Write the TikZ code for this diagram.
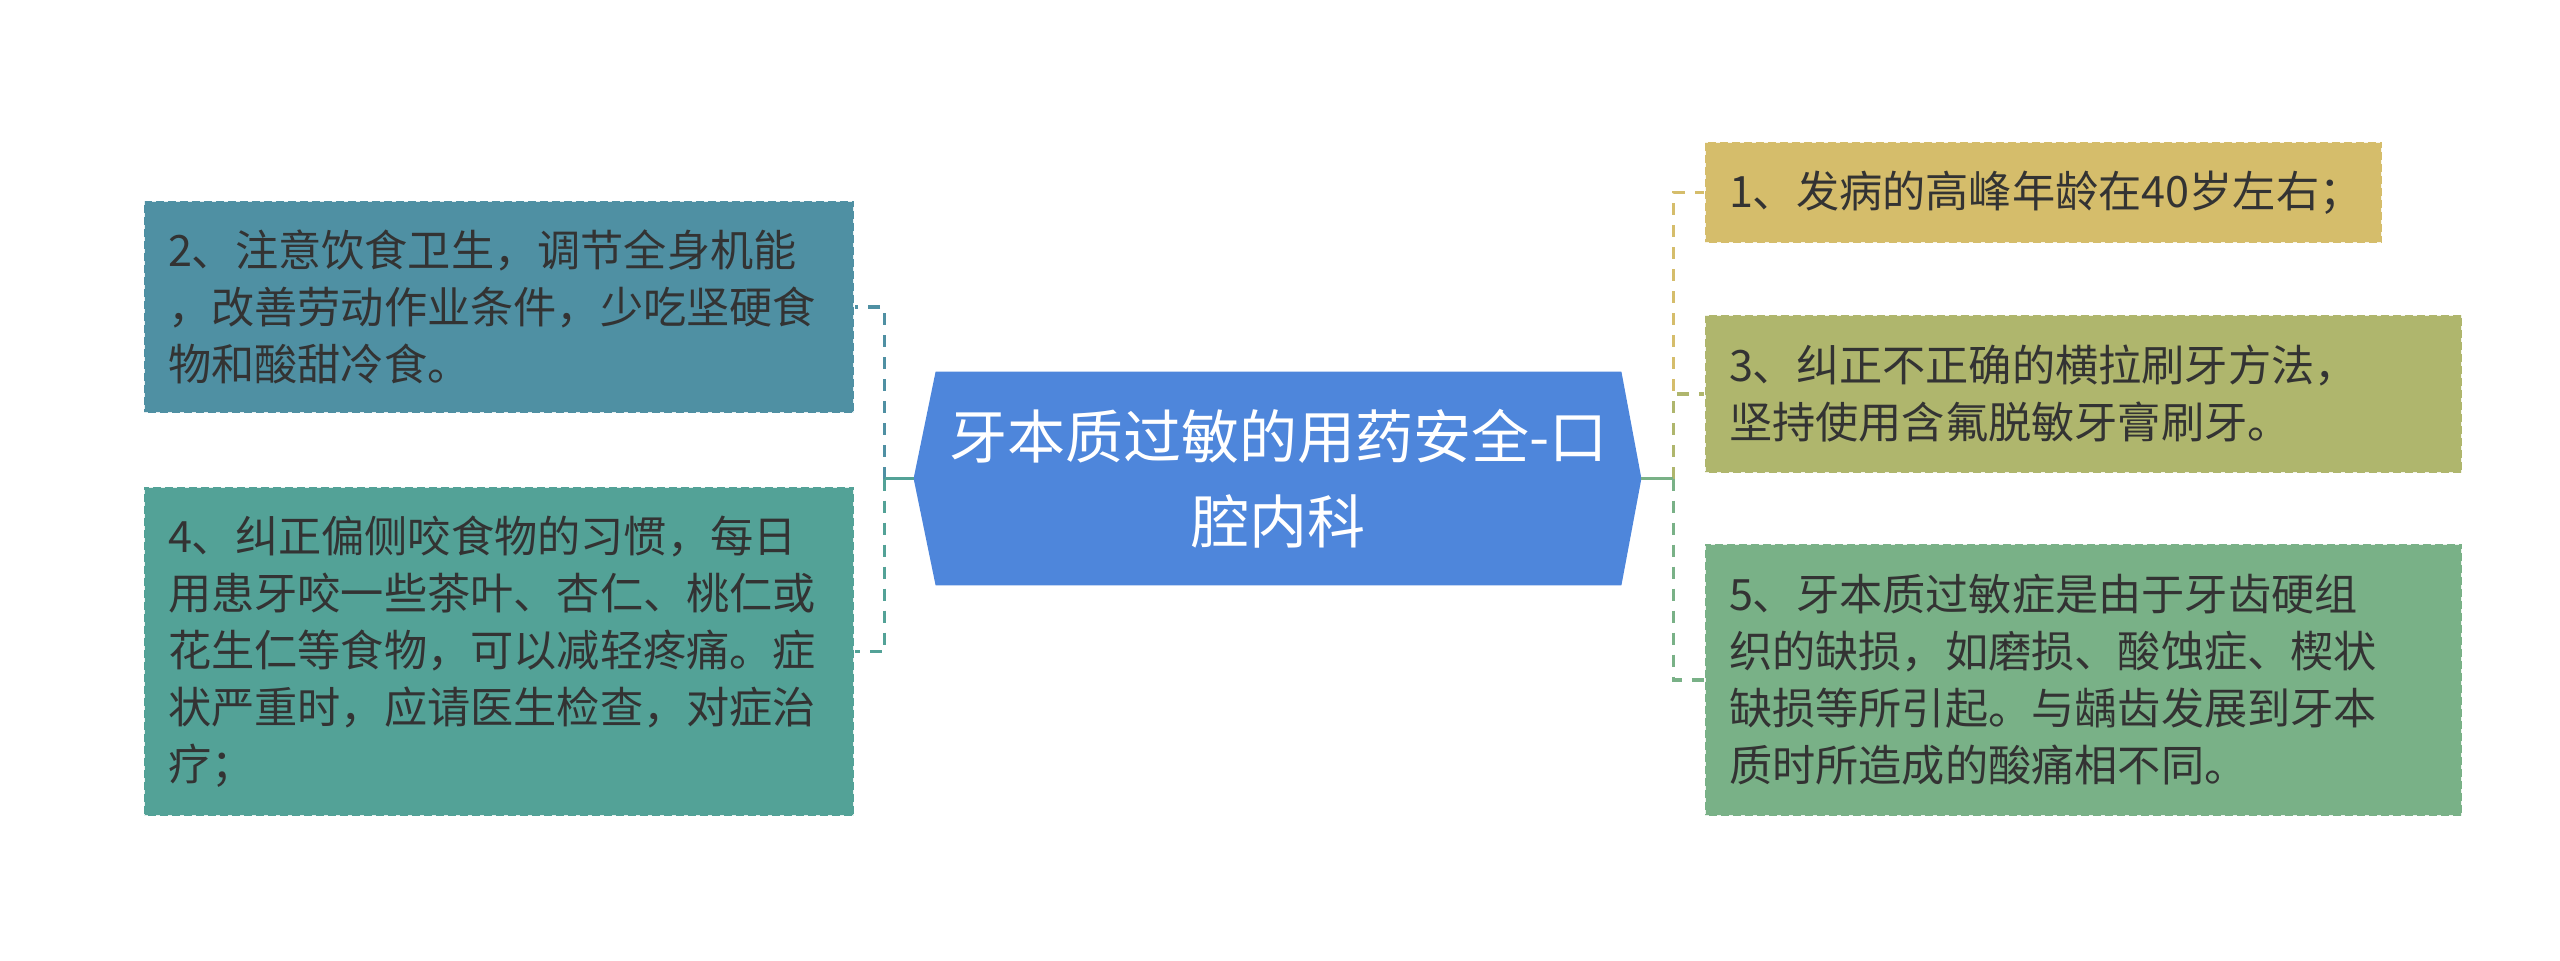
\documentclass[tikz,border=0pt]{standalone}
\usepackage{fontspec}
\setmainfont{Noto Sans CJK SC}
\usetikzlibrary{backgrounds,calc}
\definecolor{hubblue}{HTML}{4E86DB}
\definecolor{cB}{HTML}{4F90A3}
\definecolor{cD}{HTML}{53A297}
\definecolor{cA}{HTML}{D5BD6B}
\definecolor{cC}{HTML}{AFB66D}
\definecolor{cE}{HTML}{79B187}
\definecolor{txt}{HTML}{333333}
\tikzset{
  leafbox/.style={rectangle, inner xsep=12pt, inner ysep=0pt, align=left, text=txt,
    font=\fontsize{21.6pt}{28.5pt}\selectfont,
    draw=white, draw opacity=0.85, line width=1pt, dash pattern=on 2pt off 4pt},
  conn/.style={line width=1.8pt, dash pattern=on 6pt off 5pt},
  hubline/.style={line width=1.8pt}
}
\begin{document}
\begin{tikzpicture}[x=0.5pt,y=-0.5pt]
\useasboundingbox (0,0) rectangle (2560,960);
% central topic
\node[rectangle, minimum width=342.5pt, minimum height=106.5pt, inner sep=0pt,
      align=center, text=white, font=\fontsize{29pt}{42.5pt}\selectfont]
  (center) at (1278.5,478.5) {牙本质过敏的用药安全-口\\腔内科};
\coordinate (cl) at ($(center.west)+(-22,0)$);
\coordinate (cr) at ($(center.east)+(20,0)$);
\begin{scope}[on background layer]
\fill[hubblue] (center.north west) -- (center.north east) -- (cr) -- (center.south east)
  -- (center.south west) -- (cl) -- cycle;
\end{scope}
% left leaves
\node[leafbox, fill=cB, minimum width=355pt, minimum height=106pt, text width=331pt]
  (b2) at (499,307) {2、注意饮食卫生，调节全身机能\\，改善劳动作业条件，少吃坚硬食\\物和酸甜冷食。};
\node[leafbox, fill=cD, minimum width=355pt, minimum height=164.5pt, text width=331pt]
  (b4) at (499,651.5) {4、纠正偏侧咬食物的习惯，每日\\用患牙咬一些茶叶、杏仁、桃仁或\\花生仁等食物，可以减轻疼痛。症\\状严重时，应请医生检查，对症治\\疗；};
% right leaves
\node[leafbox, fill=cA, minimum width=338.5pt, minimum height=50.5pt, text width=314.5pt]
  (b1) at (2043.5,192.5) {1、发病的高峰年龄在40岁左右；};
\node[leafbox, fill=cC, minimum width=378.5pt, minimum height=79pt, text width=354.5pt]
  (b3) at (2083.5,394) {3、纠正不正确的横拉刷牙方法，\\坚持使用含氟脱敏牙膏刷牙。};
\node[leafbox, fill=cE, minimum width=378.5pt, minimum height=136pt, text width=354.5pt]
  (b5) at (2083.5,680) {5、牙本质过敏症是由于牙齿硬组\\织的缺损，如磨损、酸蚀症、楔状\\缺损等所引起。与龋齿发展到牙本\\质时所造成的酸痛相不同。};
% connectors left
\coordinate (jl) at ($(cl)+(-29,0)$);
\draw[conn, cB] (jl) |- (b2.east);
\draw[conn, cD] (jl) |- (b4.east);
\draw[hubline, cD] (cl) -- (jl);
% connectors right
\coordinate (jr) at ($(cr)+(32,0)$);
\draw[conn, cA] (jr) |- (b1.west);
\draw[conn, cC] (jr) |- (b3.west);
\draw[conn, cE] (jr) |- (b5.west);
\draw[hubline, cE] (cr) -- (jr);
\end{tikzpicture}
\end{document}
